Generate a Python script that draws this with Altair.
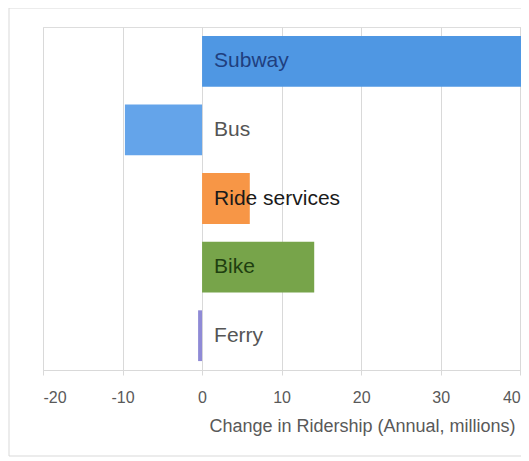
import altair as alt
import pandas as pd

modes = ["Subway", "Bus", "Ride services", "Bike", "Ferry"]
changes = [48.0, -9.7, 6.0, 14.1, -0.5]
bar_colors = ["#4f97e3", "#64a4ea", "#f79646", "#77a44a", "#8f8ad6"]
label_colors = ["#1f3f7f", "#555555", "#1a1a1a", "#1f3f10", "#555555"]
x_ticks = [-20, -10, 0, 10, 20, 30, 40]

df = pd.DataFrame({"mode": modes, "change": changes,
                   "bar_color": bar_colors, "label_color": label_colors,
                   "zero": [0] * len(modes)})

W, H = 478, 343
FONT = "Liberation Sans"
BORDER = "#d9d9d9"

xscale = alt.Scale(domain=[-20, 40.1], nice=False, zero=False)
yscale = alt.Scale(domain=modes, paddingInner=0.26, paddingOuter=0.13)

base_frame = alt.Chart(pd.DataFrame({"a": [0]}))
left_edge = base_frame.mark_rule(stroke=BORDER, clip=False).encode(
    x=alt.value(-34), y=alt.value(-19), y2=alt.value(429))
top_edge = base_frame.mark_rule(stroke=BORDER, clip=False).encode(
    x=alt.value(-34), x2=alt.value(W + 10), y=alt.value(-19))
bottom_edge = base_frame.mark_rule(stroke=BORDER, clip=False).encode(
    x=alt.value(-34), x2=alt.value(W + 10), y=alt.value(429))

bars = alt.Chart(df).mark_bar(clip=False).encode(
    x=alt.X("change:Q", scale=xscale,
            axis=alt.Axis(values=x_ticks, title="Change in Ridership (Annual, millions)",
                          labelExpr="'' + datum.value",
                          grid=True, gridColor=BORDER, domainColor=BORDER,
                          tickColor=BORDER, tickSize=5, labelColor="#595959",
                          labelFontSize=16, labelFont=FONT, labelPadding=14,
                          titleFont=FONT, titleFontSize=18, titleFontWeight="normal",
                          titleColor="#595959", titleX=319, titleAlign="center",
                          titlePadding=12)),
    x2=alt.X2("zero:Q"),
    y=alt.Y("mode:N", scale=yscale, axis=None, sort=modes),
    color=alt.Color("bar_color:N", scale=None, legend=None),
)

labels = alt.Chart(df).mark_text(align="left", baseline="middle", dx=12,
                                 font=FONT, fontSize=21).encode(
    x=alt.X("zero:Q", scale=xscale),
    y=alt.Y("mode:N", scale=yscale, sort=modes),
    text="mode:N",
    color=alt.Color("label_color:N", scale=None, legend=None),
)

chart = alt.layer(left_edge, top_edge, bottom_edge, bars, labels).properties(
    width=W, height=H,
    autosize=alt.AutoSizeParams(type="none"),
    padding={"left": 35, "top": 19, "right": 0, "bottom": 90},
).configure_view(strokeWidth=0, stroke="transparent").configure(background="white")

chart.save("out.html", embed_options={"renderer": "svg", "actions": False})
